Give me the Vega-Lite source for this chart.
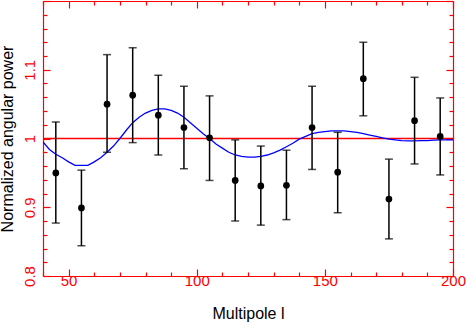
{
  "$schema": "https://vega.github.io/schema/vega-lite/v6.json",
  "width": 410,
  "height": 275,
  "autosize": "none",
  "padding": {"left": 43, "top": 1, "right": 13, "bottom": 51},
  "background": "white",
  "config": {"view": {"stroke": null}, "font": "Liberation Sans"},
  "datasets": {
    "points": [
      {"l": 45, "p": 0.950, "lo": 0.877, "hi": 1.024},
      {"l": 55, "p": 0.899, "lo": 0.844, "hi": 0.954},
      {"l": 65, "p": 1.050, "lo": 0.980, "hi": 1.122},
      {"l": 75, "p": 1.063, "lo": 0.994, "hi": 1.132},
      {"l": 85, "p": 1.034, "lo": 0.976, "hi": 1.092},
      {"l": 95, "p": 1.016, "lo": 0.956, "hi": 1.076},
      {"l": 105, "p": 1.001, "lo": 0.939, "hi": 1.062},
      {"l": 115, "p": 0.939, "lo": 0.880, "hi": 0.998},
      {"l": 125, "p": 0.931, "lo": 0.874, "hi": 0.989},
      {"l": 135, "p": 0.932, "lo": 0.882, "hi": 0.983},
      {"l": 145, "p": 1.016, "lo": 0.955, "hi": 1.076},
      {"l": 155, "p": 0.951, "lo": 0.892, "hi": 1.009},
      {"l": 165, "p": 1.087, "lo": 1.033, "hi": 1.140},
      {"l": 175, "p": 0.912, "lo": 0.854, "hi": 0.970},
      {"l": 185, "p": 1.026, "lo": 0.963, "hi": 1.089},
      {"l": 195, "p": 1.003, "lo": 0.947, "hi": 1.059}
    ],
    "curve": [
      {"l": 40, "p": 0.995}, {"l": 42.5, "p": 0.984}, {"l": 45, "p": 0.977}, {"l": 47.5, "p": 0.972},
      {"l": 50, "p": 0.966}, {"l": 52.5, "p": 0.961}, {"l": 55, "p": 0.961}, {"l": 57.5, "p": 0.961},
      {"l": 60, "p": 0.966}, {"l": 62.5, "p": 0.972}, {"l": 65, "p": 0.980}, {"l": 67.5, "p": 0.989},
      {"l": 70, "p": 1.000}, {"l": 72.5, "p": 1.012}, {"l": 75, "p": 1.023}, {"l": 77.5, "p": 1.031},
      {"l": 80, "p": 1.037}, {"l": 82.5, "p": 1.041}, {"l": 85, "p": 1.043}, {"l": 87.5, "p": 1.043},
      {"l": 90, "p": 1.041}, {"l": 92.5, "p": 1.037}, {"l": 95, "p": 1.031}, {"l": 97.5, "p": 1.023},
      {"l": 100, "p": 1.015}, {"l": 102.5, "p": 1.007}, {"l": 105, "p": 1.000}, {"l": 107.5, "p": 0.992},
      {"l": 110, "p": 0.986}, {"l": 112.5, "p": 0.980}, {"l": 115, "p": 0.976}, {"l": 117.5, "p": 0.974},
      {"l": 120, "p": 0.973}, {"l": 122.5, "p": 0.973}, {"l": 125, "p": 0.974}, {"l": 127.5, "p": 0.976},
      {"l": 130, "p": 0.979}, {"l": 132.5, "p": 0.983}, {"l": 135, "p": 0.988}, {"l": 137.5, "p": 0.993},
      {"l": 140, "p": 0.999}, {"l": 142.5, "p": 1.003}, {"l": 145, "p": 1.007}, {"l": 147.5, "p": 1.009},
      {"l": 150, "p": 1.010}, {"l": 152.5, "p": 1.011}, {"l": 155, "p": 1.011}, {"l": 157.5, "p": 1.011},
      {"l": 160, "p": 1.010}, {"l": 162.5, "p": 1.009}, {"l": 165, "p": 1.007}, {"l": 167.5, "p": 1.005},
      {"l": 170, "p": 1.003}, {"l": 172.5, "p": 1.001}, {"l": 175, "p": 0.999}, {"l": 177.5, "p": 0.998},
      {"l": 180, "p": 0.997}, {"l": 182.5, "p": 0.9965}, {"l": 185, "p": 0.9965}, {"l": 187.5, "p": 0.9968},
      {"l": 190, "p": 0.997}, {"l": 192.5, "p": 0.9975}, {"l": 195, "p": 0.998}, {"l": 197.5, "p": 0.998},
      {"l": 200, "p": 0.998}
    ],
    "ref": [{"v": 1}]
  },
  "layer": [
    {
      "data": {"name": "ref"},
      "mark": {"type": "rule", "color": "#ff0000", "strokeWidth": 1.5},
      "encoding": {
        "y": {"field": "v", "type": "quantitative", "axis": null}
      }
    },
    {
      "data": {"name": "curve"},
      "mark": {"type": "line", "color": "#0000ff", "strokeWidth": 1.3, "clip": true},
      "encoding": {
        "x": {
          "field": "l", "type": "quantitative",
          "scale": {"domain": [40, 200], "nice": false, "zero": false},
          "axis": {
            "orient": "bottom",
            "values": [40, 50, 60, 70, 80, 90, 100, 110, 120, 130, 140, 150, 160, 170, 180, 190, 200],
            "labelExpr": "datum.value % 50 === 0 ? datum.label : ''",
            "tickSize": {"condition": {"test": "datum.value % 50 === 0", "value": -7}, "value": -4},
            "domainColor": "#ff0000", "tickColor": "#ff0000", "labelColor": "#ff0000",
            "domainWidth": 1.2, "tickWidth": 1.2,
            "labelFontSize": 15, "labelPadding": 4, "labelOverlap": false, "labelFlush": false,
            "grid": false,
            "title": "Multipole l", "titleFontSize": 16, "titleFontWeight": "normal", "titleColor": "#000000", "titlePadding": 14
          }
        },
        "y": {
          "field": "p", "type": "quantitative",
          "scale": {"domain": [0.8, 1.2], "nice": false, "zero": false},
          "axis": {
            "orient": "left",
            "values": [0.8, 0.82, 0.84, 0.86, 0.88, 0.9, 0.92, 0.94, 0.96, 0.98, 1, 1.02, 1.04, 1.06, 1.08, 1.1, 1.12, 1.14, 1.16, 1.18, 1.2],
            "labelExpr": "(abs(datum.value*10 - round(datum.value*10)) < 0.001 && datum.value < 1.15) ? format(datum.value, '~g') : ''",
            "tickSize": {"condition": {"test": "abs(datum.value*10 - round(datum.value*10)) < 0.001", "value": -7}, "value": -4},
            "domainColor": "#ff0000", "tickColor": "#ff0000", "labelColor": "#ff0000",
            "domainWidth": 1.2, "tickWidth": 1.2,
            "labelFontSize": 15, "labelPadding": 13, "labelOverlap": false, "labelFlush": false,
            "labelAngle": -90, "labelAlign": "center", "labelBaseline": "bottom",
            "grid": false,
            "title": "Normalized angular power", "titleFontSize": 16, "titleFontWeight": "normal", "titleColor": "#000000", "titlePadding": 4
          }
        }
      }
    },
    {
      "data": {"name": "points"},
      "mark": {"type": "rule", "color": "#000000", "strokeWidth": 1.5},
      "encoding": {
        "x": {
          "field": "l", "type": "quantitative",
          "axis": {
            "orient": "top",
            "values": [40, 50, 60, 70, 80, 90, 100, 110, 120, 130, 140, 150, 160, 170, 180, 190, 200],
            "labels": false,
            "tickSize": {"condition": {"test": "datum.value % 50 === 0", "value": -7}, "value": -4},
            "domainColor": "#ff0000", "tickColor": "#ff0000",
            "domainWidth": 1.2, "tickWidth": 1.2, "grid": false, "title": null
          }
        },
        "y": {
          "field": "lo", "type": "quantitative",
          "axis": {
            "orient": "right",
            "values": [0.8, 0.82, 0.84, 0.86, 0.88, 0.9, 0.92, 0.94, 0.96, 0.98, 1, 1.02, 1.04, 1.06, 1.08, 1.1, 1.12, 1.14, 1.16, 1.18, 1.2],
            "labels": false,
            "tickSize": {"condition": {"test": "abs(datum.value*10 - round(datum.value*10)) < 0.001", "value": -7}, "value": -4},
            "domainColor": "#ff0000", "tickColor": "#ff0000",
            "domainWidth": 1.2, "tickWidth": 1.2, "grid": false, "title": null
          }
        },
        "y2": {"field": "hi"}
      }
    },
    {
      "data": {"name": "points"},
      "mark": {"type": "tick", "orient": "horizontal", "size": 8, "thickness": 1.5, "color": "#000000"},
      "encoding": {
        "x": {"field": "l", "type": "quantitative", "axis": null},
        "y": {"field": "lo", "type": "quantitative", "axis": null}
      }
    },
    {
      "data": {"name": "points"},
      "mark": {"type": "tick", "orient": "horizontal", "size": 8, "thickness": 1.5, "color": "#000000"},
      "encoding": {
        "x": {"field": "l", "type": "quantitative", "axis": null},
        "y": {"field": "hi", "type": "quantitative", "axis": null}
      }
    },
    {
      "data": {"name": "points"},
      "mark": {"type": "circle", "color": "#000000", "opacity": 1, "size": 45},
      "encoding": {
        "x": {"field": "l", "type": "quantitative", "axis": null},
        "y": {"field": "p", "type": "quantitative", "axis": null}
      }
    }
  ],
  "resolve": {"axis": {"x": "independent", "y": "independent"}}
}
